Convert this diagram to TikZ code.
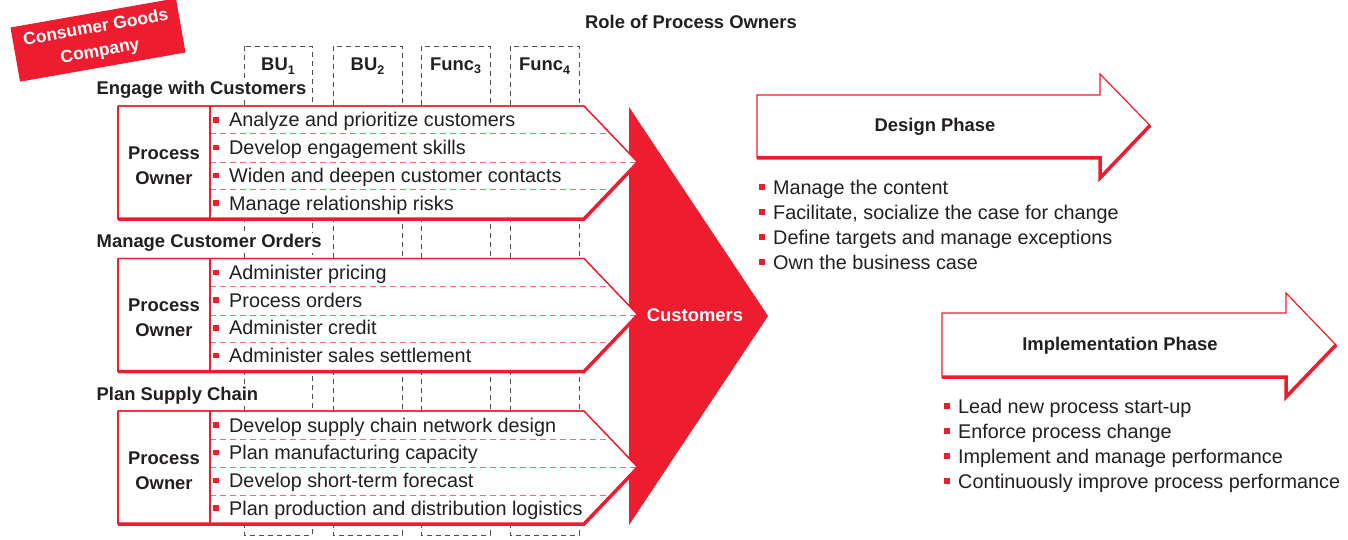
\documentclass[tikz,border=0pt]{standalone}
\usepackage{fontspec}
\setmainfont{Liberation Sans}
\definecolor{cred}{RGB}{237,28,46}
\definecolor{ctext}{RGB}{35,31,32}
\definecolor{cpink}{RGB}{240,110,120}
\newcommand\itemfont{\fontsize{19.8}{22}\selectfont}
\newcommand\boldfont{\fontsize{18.4}{25}\selectfont\bfseries}
\newcommand\subsc[1]{\raisebox{-0.35ex}{\fontsize{12.5}{12.5}\selectfont #1}}
\tikzset{
  item/.style={anchor=base west, font=\itemfont, text=ctext, inner sep=0pt},
  headtxt/.style={anchor=base west, font=\boldfont, text=ctext, fill=white, inner sep=1.5pt},
  bold/.style={font=\boldfont, text=ctext, inner sep=0pt},
  bul/.style={fill=cred, minimum size=5.5pt, inner sep=0pt},
  colbox/.style={draw=black!70, dash pattern=on 5pt off 4pt, line width=0.9pt},
  sepline/.style={draw=cpink, dash pattern=on 6pt off 4pt, line width=1pt},
  thinred/.style={draw=cred, line width=1.2pt, fill=white, line join=miter},
  thickred/.style={draw=cred, line width=3.5pt, line join=miter},
}
\newcommand\procgroup[4]{%
  \node[headtxt] (#2h) at (95,#1-11) {#3};
  \path[thinred] (118,#1) -- (584,#1) -- (638,#1+56.5) -- (584,#1+113) -- (118,#1+113) -- cycle;
  \begin{scope}
    \clip (118,#1) -- (584,#1) -- (638,#1+56.5) -- (584,#1+113) -- (118,#1+113) -- cycle;
    \foreach \d in {28,56.5,84} \draw[sepline] (210,#1+\d) -- (700,#1+\d);
  \end{scope}
  \draw[thinred, fill=none] (118,#1) -- (584,#1) -- (638,#1+56.5);
  \draw[thickred] (118,#1+113) -- (584,#1+113) -- (638,#1+56.5);
  \draw[draw=cred, line width=2pt] (118,#1) -- (118,#1+113);
  \draw[draw=cred, line width=1.5pt] (210,#1) -- (210,#1+113);
  \node[bold, align=center] (#2po) at (164,#1+59.5) {Process\\Owner};
  \foreach \t [count=\k] in {#4} {
    \node[bul] (#2b\k) at (216,#1+14+27.7*\k-27.7) {};
    \node[item] (#2t\k) at (229,#1+21+27.7*\k-27.7) {\t};
  }
}
\begin{document}
\begin{tikzpicture}[x=1pt,y=-1pt]
\useasboundingbox (0,0) rectangle (1348,540);

% company tag
\node[fill=cred, rotate=10, minimum width=168pt, minimum height=55pt, inner sep=0pt,
      align=center, text=white, font=\fontsize{17.5}{24}\selectfont\bfseries] (company) at (98,40) {Consumer Goods\\Company};

% title
\node[bold] (title) at (691,22) {Role of Process Owners};

% columns
\draw[colbox] (244,46) rectangle (312,535);
\draw[colbox] (333,46) rectangle (402,535);
\draw[colbox] (421,46) rectangle (490,535);
\draw[colbox] (510,46) rectangle (579,535);
\node[bold] (bu1) at (278,66) {BU\subsc{1}};
\node[bold] (bu2) at (367.5,66) {BU\subsc{2}};
\node[bold] (fu3) at (455.5,66) {Func\subsc{3}};
\node[bold] (fu4) at (544.5,66) {Func\subsc{4}};

% big customers arrow
\fill[cred] (629,107) -- (768,316) -- (629,525) -- cycle;
\node[bold, text=white] (cust) at (695,315) {Customers};

% groups
\procgroup{106}{ga}{Engage with Customers}{Analyze and prioritize customers,Develop engagement skills,Widen and deepen customer contacts,Manage relationship risks}
\procgroup{258.5}{gb}{Manage Customer Orders}{Administer pricing,Process orders,Administer credit,Administer sales settlement}
\procgroup{411}{gc}{Plan Supply Chain}{Develop supply chain network design,Plan manufacturing capacity,Develop short-term forecast,Plan production and distribution logistics}

% design phase
\path[thinred] (757,95) -- (1100,95) -- (1100,74) -- (1150,125.5) -- (1100,178) -- (1100,158) -- (757,158) -- cycle;
\draw[thickred] (757,158) -- (1100,158) -- (1100,178) -- (1150,125.5);
\node[bold] (design) at (935,127) {Design Phase};
\foreach \t [count=\k] in {Manage the content,{Facilitate, socialize the case for change},Define targets and manage exceptions,Own the business case} {
  \node[bul] (db\k) at (762,187+25*\k-25) {};
  \node[item] (dt\k) at (773,194+25*\k-25) {\t};
}

% implementation phase
\path[thinred] (942,313) -- (1286,313) -- (1286,293) -- (1336,345) -- (1286,397) -- (1286,377) -- (942,377) -- cycle;
\draw[thickred] (942,377) -- (1286,377) -- (1286,397) -- (1336,345);
\node[bold] (impl) at (1120,346) {Implementation Phase};
\foreach \t [count=\k] in {Lead new process start-up,Enforce process change,Implement and manage performance,Continuously improve process performance} {
  \node[bul] (ib\k) at (947,406+25*\k-25) {};
  \node[item] (it\k) at (958,413+25*\k-25) {\t};
}
\end{tikzpicture}
\end{document}
